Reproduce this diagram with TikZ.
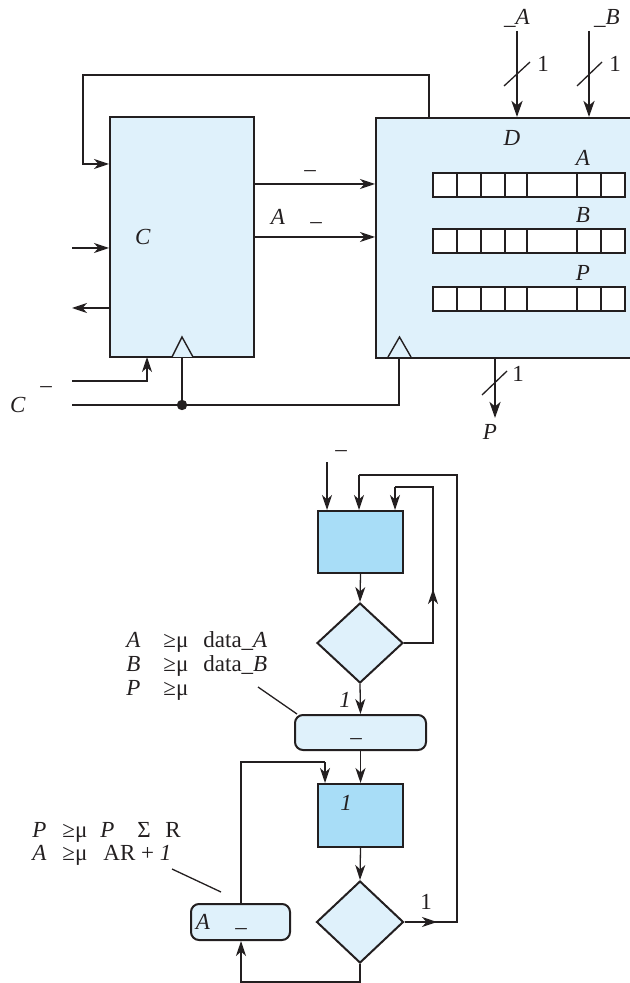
\documentclass[tikz,border=0pt]{standalone}
\usepackage{fontspec}
\setmainfont{Liberation Serif}
\usetikzlibrary{arrows.meta,shapes.geometric}
\definecolor{lightb}{HTML}{DFF1FB}
\definecolor{darkb}{HTML}{A8DDF7}
\definecolor{lc}{HTML}{231F20}
\begin{document}
\begin{tikzpicture}[x=0.5pt,y=-0.5pt,
  every node/.style={font=\fontsize{11.5pt}{13pt}\selectfont, text=lc, inner sep=0pt},
  lbox/.style={draw=lc, fill=lightb, line width=1pt, inner sep=0pt},
  dbox/.style={draw=lc, fill=darkb, line width=1pt, inner sep=0pt},
  rbox/.style={draw=lc, fill=lightb, line width=1pt, rounded corners=4pt, inner sep=0pt},
  dia/.style={draw=lc, fill=lightb, line width=1pt, shape=diamond, inner sep=0pt},
  reg/.style={draw=lc, fill=white, line width=0.7pt, minimum width=96pt, minimum height=12pt},
  ln/.style={draw=lc, line width=0.65pt},
  arr/.style={ln, -{Stealth[length=7.5pt,width=5pt,inset=2.2pt]}},
  bus/.style={draw=lc, line width=1.3pt, -{Stealth[length=8pt,width=5.5pt,inset=2.2pt]}},
  clk/.style={draw=lc, fill=lightb, line width=0.7pt}
]
\useasboundingbox (0,0) rectangle (629,983);

% ---------------- top: datapath ----------------
\node[lbox, minimum width=72pt, minimum height=120pt] (C) at (182,237) {};
\node[lbox, minimum width=135pt, minimum height=120pt, anchor=north west] (D) at (375,117) {};
\node (Clab) at (143,237) {\textit{C}};
\node (Dlab) at (512,138) {\textit{D}};

% registers
\foreach \n/\y/\l/\ly in {RA/185/A/158, RB/241/B/215, RP/299/P/273}{
  \node[reg] (\n) at (529,\y) {};
  \foreach \x in {457,481,505,527,577,601}
    \draw[draw=lc, line width=0.7pt] (\x,\y-12) -- (\x,\y+12);
  \node (\n lab) at (583,\ly) {\textit{\l}};
}

% clocks
\draw[clk] (172,357) -- (182,337) -- (193,357);
\draw[clk] (388,357) -- (399.5,337) -- (411,357);

% feedback from D to C
\coordinate (fbA) at (429,75);
\coordinate (fbB) at (83,75);
\draw[arr] (D.north -| fbA) -- (fbA) -- (fbB) -- (83,164) -- (C.west |- 0,164);

% C to D
\draw[arr] (C.east |- 0,184) -- (D.west |- 0,184);
\draw[arr] (C.east |- 0,237) -- (D.west |- 0,237);
\node (d1) at (310,174) {\textendash};
\node (Alab) at (278,217) {\textit{A}};
\node (d2) at (316,226) {\textendash};

% left side of C
\coordinate (inL) at (72,248);
\coordinate (outL) at (72,308);
\draw[arr] (inL) -- (C.west |- inL);
\draw[arr] (C.west |- outL) -- (outL);
\coordinate (stL) at (72,381);
\draw[arr] (stL) -- (147,381) -- (147,357);
\coordinate (clkL) at (72,405);
\draw[ln] (clkL) -- (399,405) -- (399,357);
\draw[ln] (182,357) -- (182,405);
\fill[lc] (182,405) circle (2.6pt);
\node (Cin) at (18,405) {\textit{C}};
\node (Cdash) at (46,390) {\textendash};

% buses into D
\coordinate (busA) at (517,31);
\coordinate (busB) at (589,31);
\draw[bus] (busA) -- (D.north -| busA);
\draw[bus] (busB) -- (D.north -| busB);
\draw[ln] (504,86) -- (530,62);
\draw[ln] (577,86) -- (602,62);
\node (nA) at (543,64) {1};
\node (nB) at (615,64) {1};
\node (labA) at (517,18) {\_\textit{A}};
\node (labB) at (607,18) {\_\textit{B}};

% output bus
\coordinate (busP) at (495,418);
\draw[bus] (D.south -| busP) -- (busP);
\draw[ln] (482,395) -- (507,371);
\node (nP) at (518,374) {1};
\node (labP) at (490,432) {\textit{P}};

% ---------------- bottom: flowchart ----------------
\node[dbox, minimum width=42.5pt, minimum height=31pt] (B1) at (360.5,542) {};
\node[dia, minimum width=43pt, minimum height=40pt] (Q1) at (360,643) {};
\node[rbox, minimum width=65.5pt, minimum height=17.5pt] (R2) at (360.5,732.5) {};
\node[dbox, minimum width=42.5pt, minimum height=31.5pt] (B3) at (360.5,815.5) {};
\node[dia, minimum width=43.5pt, minimum height=41pt] (Q2) at (360,922) {};
\node[rbox, minimum width=49.5pt, minimum height=18pt] (R4) at (240.5,922) {};

% entry
\coordinate (start) at (327,462);
\draw[arr] (start) -- (B1.north -| start);
\node (sdash) at (341,454) {\textendash};

% main chain
\draw[arr] (B1.south) -- (Q1.north);
\draw[arr] (Q1.south) -- (R2.north);
\draw[arr] (R2.south) -- (B3.north);
\draw[arr] (B3.south) -- (Q2.north);
\node (one1) at (345,700) {\textit{1}};
\node (r2dash) at (356,742) {\textendash};
\node (one3) at (346,803) {\textit{1}};

% inner loop
\draw[arr] (Q1.east) -- (433,643) -- (433,589);
\draw[ln] (433,643) -- (433,487) -- (395,487);
\draw[arr] (395,487) -- (B1.north -| 395,0);

% outer loop
\draw[arr] (Q2.east) -- (437,922);
\draw[ln] (Q2.east) -- (457,922) -- (457,475) -- (359,475);
\draw[arr] (359,475) -- (B1.north -| 359,0);
\node (one2) at (426,902) {1};

% lower loop
\draw[arr] (Q2.south) -- (360,982) -- (241,982) -- (R4.south -| 241,0);
\draw[ln] (R4.north -| 241,0) -- (241,762) -- (325,762);
\draw[arr] (325,762) -- (B3.north -| 325,0);
\node (r4A) at (203,922) {\textit{A}};
\node (r4dash) at (241,932) {\textendash};

% annotation 1
\node[anchor=base west] (a1a) at (126,647) {\textit{A}};
\node[anchor=base west] (a1b) at (163,647) {≥μ};
\node[anchor=base west] (a1c) at (203,647) {data\_\textit{A}};
\node[anchor=base west] (a2a) at (126,671) {\textit{B}};
\node[anchor=base west] (a2b) at (163,671) {≥μ};
\node[anchor=base west] (a2c) at (203,671) {data\_\textit{B}};
\node[anchor=base west] (a3a) at (126,695) {\textit{P}};
\node[anchor=base west] (a3b) at (163,695) {≥μ};
\coordinate (lead1a) at (258,687);
\draw[ln] (lead1a) -- (R2.north west -| 297,0);

% annotation 2
\node[anchor=base west] (b1a) at (32,837) {\textit{P}};
\node[anchor=base west] (b1b) at (62,837) {≥μ};
\node[anchor=base west] (b1c) at (100,837) {\textit{P}};
\node[anchor=base west] (b1d) at (137,837) {Σ};
\node[anchor=base west] (b1e) at (165,837) {R};
\node[anchor=base west] (b2a) at (32,860) {\textit{A}};
\node[anchor=base west] (b2b) at (62,860) {≥μ};
\node[anchor=base west] (b2c) at (103,860) {AR + \textit{1}};
\coordinate (lead2a) at (172,869);
\coordinate (lead2b) at (221,892);
\draw[ln] (lead2a) -- (lead2b);
\end{tikzpicture}
\end{document}
